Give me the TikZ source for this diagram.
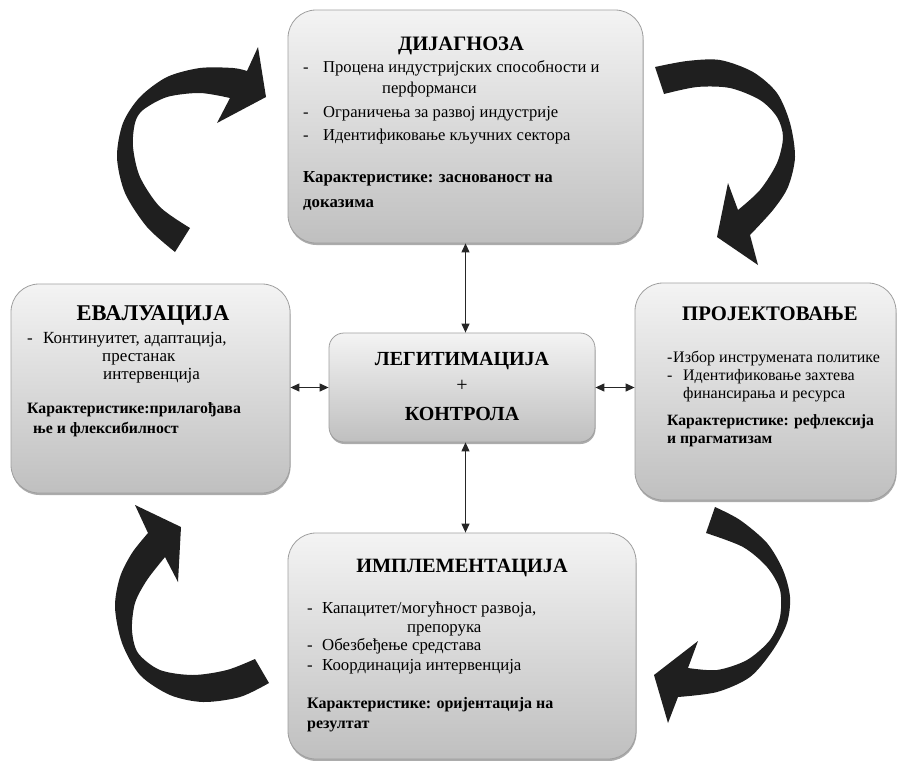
\documentclass[tikz,border=0pt]{standalone}
\usepackage{fontspec}
\setmainfont{Liberation Serif}
\usetikzlibrary{arrows.meta,shadows}
\newcommand\dsh[1]{\llap{\makebox[#1][l]{-}}}
\begin{document}
\begin{tikzpicture}[x=1pt,y=-1pt,
  box/.style={draw=gray!75, line width=0.8pt, top color=gray!9, bottom color=gray!50,
    inner sep=0pt, drop shadow={shadow xshift=0.5pt, shadow yshift=-2pt, fill=gray!65, opacity=1}},
  body/.style={inner sep=0pt, anchor=base west, font=\fontsize{#1}{20}\selectfont},
  bodyb/.style={inner sep=0pt, anchor=base west, font=\fontsize{#1}{20}\selectfont\bfseries},
  ttl/.style={inner sep=0pt, anchor=base, font=\fontsize{#1}{24}\selectfont\bfseries},
  dbl/.style={{Triangle[length=9pt,width=8pt]}-{Triangle[length=9pt,width=8pt]}, line width=1.2pt, color=black!85},
  bigarrow/.style={fill=black!88}]
\useasboundingbox (0,0) rectangle (898,761);

% boxes
\node[box, rounded corners=28pt, minimum width=355pt, minimum height=233pt] (top) at (465.5,126.5) {};
\node[box, rounded corners=28pt, minimum width=279pt, minimum height=209pt] (lft) at (150.5,388.5) {};
\node[box, rounded corners=28pt, minimum width=261pt, minimum height=217pt] (rgt) at (765.5,391.5) {};
\node[box, rounded corners=28pt, minimum width=348pt, minimum height=226pt] (bot) at (462,646) {};
\node[box, rounded corners=15pt, minimum width=266pt, minimum height=109pt] (ctr) at (462,387.5) {};

% connectors
\draw[dbl] (ctr.north -| top.south) -- (top.south);
\draw[dbl] (ctr.south -| top.south) -- (bot.north -| top.south);
\draw[dbl] (lft.east |- ctr.west) -- (ctr.west);
\draw[dbl] (ctr.east) -- (rgt.west |- ctr.east);

% top box text
\node[ttl=20.5] (t0) at (461,50.5) {ДИЈАГНОЗА};
\node[body=16.6] (t1) at (323,72) {\dsh{20pt}Процена индустријских способности и};
\node[body=16.6] (t2) at (382,93) {перформанси};
\node[body=16.6] (t3) at (323,117) {\dsh{20pt}Ограничења за развој индустрије};
\node[body=16.6] (t4) at (323,140) {\dsh{20pt}Идентификовање кључних сектора};
\node[bodyb=16.8] (t5) at (303,182) {Карактеристике: заснованост на};
\node[bodyb=16.8] (t6) at (303,207) {доказима};

% left box text
\node[ttl=22.5] (l0) at (153,320) {ЕВАЛУАЦИЈА};
\node[body=17] (l1) at (43,343) {\dsh{16pt}Континуитет, адаптација,};
\node[body=17] (l2) at (102,361) {престанак};
\node[body=17] (l3) at (103,379) {интервенција};
\node[bodyb=15.8] (l4) at (27,413) {Карактеристике:прилагођава};
\node[bodyb=15.8] (l5) at (33,433) {ње и флексибилност};

% right box text
\node[ttl=20.7] (r0) at (770,320) {ПРОЈЕКТОВАЊЕ};
\node[body=16] (r1) at (673,362) {\dsh{6pt}Избор инструмената политике};
\node[body=16] (r2) at (683,380) {\dsh{16pt}Идентификовање захтева};
\node[body=16] (r3) at (683,398) {финансирања и ресурса};
\node[bodyb=15.7] (r4) at (667,425) {Карактеристике: рефлексија};
\node[bodyb=15.7] (r5) at (667,443) {и прагматизам};

% bottom box text
\node[ttl=20.3] (b0) at (462,572) {ИМПЛЕМЕНТАЦИЈА};
\node[body=16.8] (b1) at (322,613) {\dsh{15pt}Капацитет/могућност развоја,};
\node[body=16.8] (b2) at (407,632) {препорука};
\node[body=16.8] (b3) at (322,650) {\dsh{15pt}Обезбеђење средстава};
\node[body=16.8] (b4) at (322,670) {\dsh{15pt}Координација интервенција};
\node[bodyb=16] (b5) at (307,708) {Карактеристике: оријентација на};
\node[bodyb=16] (b6) at (307,728) {резултат};

% center text
\node[ttl=20] (c1) at (462,365) {ЛЕГИТИМАЦИЈА};
\node[ttl=20, font=\fontsize{20}{24}\selectfont] (c2) at (462,391) {+};
\node[ttl=20] (c3) at (462,420) {КОНТРОЛА};

% curved arrows
% top-left
\fill[bigarrow] plot[smooth] coordinates {(175,252) (147,227) (125,193) (117,157) (123,123) (140,97) (167,77) (200,68) (233,68) (247,71)}
  -- (258,47) -- (266,97) -- (217,123) -- (230,98)
  -- plot[smooth] coordinates {(230,98) (200,93) (167,97) (143,110) (135,123) (133,147) (140,177) (160,207) (190,228)} -- cycle;
% top-right
\fill[bigarrow] plot[smooth] coordinates {(655,67) (687,61) (720,60) (753,72) (777,93) (790,123) (795,157) (788,187) (773,210) (750,235)}
  -- (758,265) -- (717,237) -- (728,183) -- (738,210)
  -- plot[smooth] coordinates {(738,210) (760,190) (777,163) (783,137) (777,117) (760,100) (730,88) (697,87) (664,94)} -- cycle;
% bottom-right
\fill[bigarrow] plot[smooth] coordinates {(715,507) (740,520) (767,543) (783,570) (790,597) (787,623) (773,650) (750,677) (717,692) (678,697)}
  -- (668,723) -- (654,675) -- (698,641) -- (688,668)
  -- plot[smooth] coordinates {(688,668) (717,670) (747,660) (770,640) (780,617) (780,590) (767,567) (743,547) (706,533)} -- cycle;
% bottom-left
\fill[bigarrow] plot[smooth] coordinates {(269,683) (240,697) (203,702) (170,695) (140,675) (122,643) (115,607) (120,577) (132,553) (148,533)}
  -- (135,505) -- (181,527) -- (178,582) -- (165,557)
  -- plot[smooth] coordinates {(165,557) (147,580) (135,603) (132,630) (138,653) (160,670) (193,675) (227,670) (255,659)} -- cycle;
\end{tikzpicture}
\end{document}
